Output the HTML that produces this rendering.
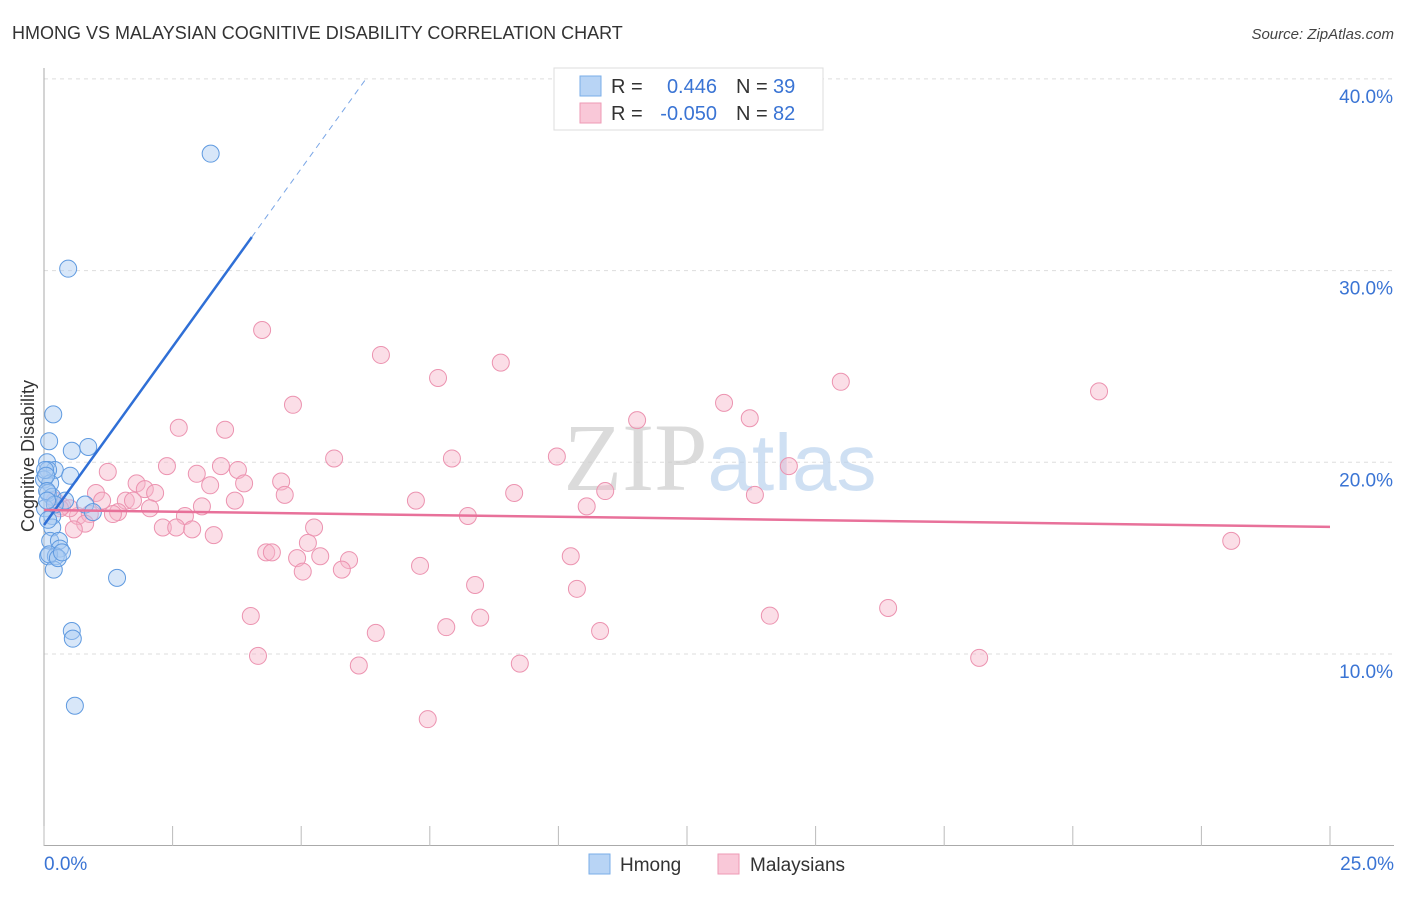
<!DOCTYPE html>
<html><head><meta charset="utf-8"><style>
body{margin:0;background:#fff;font-family:"Liberation Sans",sans-serif}
</style></head><body>
<svg id="chart" width="1406" height="892" xmlns="http://www.w3.org/2000/svg" font-family="Liberation Sans, sans-serif">
<text x="12" y="39" font-size="18" fill="#333">HMONG VS MALAYSIAN COGNITIVE DISABILITY CORRELATION CHART</text>
<text x="1394" y="39" font-size="15" fill="#444" font-style="italic" text-anchor="end">Source: ZipAtlas.com</text>
<g id="grid"></g>
<text x="720" y="490" font-size="96" text-anchor="middle" fill="#ddd" opacity="0.7"><tspan font-family="Liberation Serif, serif" fill="#ccc">ZIP</tspan><tspan fill="#bcd3ee" font-size="80">atlas</tspan></text>
<g id="axes"></g>
<g id="marks"></g>
<text transform="translate(34,456) rotate(-90)" font-size="18" fill="#333" text-anchor="middle">Cognitive Disability</text>
<g>
<rect x="554" y="68" width="269" height="62" fill="#fff" stroke="#ddd"/>
<rect x="580" y="76" width="21" height="20" fill="#b8d4f5" stroke="#7aaee8"/>
<rect x="580" y="103" width="21" height="20" fill="#f9c8d8" stroke="#ee9ab5"/>
<text x="611" y="93" font-size="20" fill="#333">R = </text><text x="717" y="93" font-size="20" fill="#3a74d4" text-anchor="end">0.446</text>
<text x="736" y="93" font-size="20" fill="#333">N = </text><text x="773" y="93" font-size="20" fill="#3a74d4">39</text>
<text x="611" y="120" font-size="20" fill="#333">R = </text><text x="717" y="120" font-size="20" fill="#3a74d4" text-anchor="end">-0.050</text>
<text x="736" y="120" font-size="20" fill="#333">N = </text><text x="773" y="120" font-size="20" fill="#3a74d4">82</text>
</g>
<g>
<rect x="589" y="854" width="21" height="20" fill="#b8d4f5" stroke="#7aaee8"/>
<text x="620" y="871" font-size="19" fill="#333">Hmong</text>
<rect x="718" y="854" width="21" height="20" fill="#f9c8d8" stroke="#ee9ab5"/>
<text x="750" y="871" font-size="19" fill="#333">Malaysians</text>
</g>
</svg>
<script>
const xTicks=[0,2.5,5,7.5,10,12.5,15,17.5,20,22.5,25];
const yTicks=[10,20,30,40];
const yTickLabels=["10.0%","20.0%","30.0%","40.0%"];
const hmongX=[3.24,0.47,0.18,0.1,0.54,0.86,0.06,0.21,0.08,0.51,0,0.12,0.08,0.16,0.41,0.8,0.95,0.02,0.16,0.16,0.12,0.29,0.31,0.08,0.23,0.19,1.42,0.54,0.56,0.6,0.02,0.04,0.06,0.21,0.08,0.1,0.06,0.27,0.35];
const hmongY=[36.1,30.1,22.5,21.1,20.6,20.8,20.0,19.6,19.6,19.3,19.1,18.9,18.4,18.2,18.0,17.8,17.4,17.6,17.2,16.6,15.9,15.9,15.5,15.1,15.1,14.4,13.97,11.2,10.8,7.3,19.6,19.3,18.5,17.8,17.0,15.2,18.0,15.0,15.3];
const malX=[4.24,6.55,8.88,7.66,4.84,15.49,20.51,13.22,2.62,3.52,11.53,13.72,5.64,7.93,9.97,14.48,1.24,2.39,3.44,3.77,2.97,4.61,3.89,3.23,1.8,1.96,2.16,1.01,4.68,3.71,1.59,9.14,7.23,13.82,10.91,1.73,2.06,1.13,1.44,0.66,0.89,0.35,0.5,3.07,10.55,8.24,2.74,2.31,2.57,2.88,3.3,5.25,5.13,4.32,4.43,4.92,5.37,5.93,5.79,5.03,7.31,10.24,8.38,10.36,4.02,14.11,16.41,23.08,7.82,8.48,6.45,10.81,4.16,6.12,9.25,18.18,7.46,0.21,0.31,0.8,1.34,0.58];
const malY=[26.9,25.6,25.2,24.4,23.0,24.2,23.7,23.1,21.8,21.7,22.2,22.3,20.2,20.2,20.3,19.8,19.5,19.8,19.8,19.6,19.4,19.0,18.9,18.8,18.9,18.6,18.4,18.4,18.3,18.0,18.0,18.4,18.0,18.3,18.5,18.0,17.6,18.0,17.4,17.2,17.3,17.7,17.6,17.7,17.7,17.2,17.2,16.6,16.6,16.5,16.2,16.6,15.8,15.3,15.3,15.0,15.1,14.9,14.4,14.3,14.6,15.1,13.6,13.4,11.98,12.0,12.4,15.9,11.4,11.9,11.1,11.2,9.9,9.4,9.5,9.8,6.6,18.0,17.6,16.8,17.3,16.5];
const hmongLine=[0,16.73,4.04,31.75];
const malLine=[0,17.51,25,16.63];
const NS="http://www.w3.org/2000/svg";
const X=v=>44+v/25*1286, Y=v=>845.7-v*19.17;
function mk(tag,attrs,parent){const e=document.createElementNS(NS,tag);for(const k in attrs)e.setAttribute(k,attrs[k]);parent.appendChild(e);return e;}
const grid=document.getElementById('grid'),axes=document.getElementById('axes'),marks=document.getElementById('marks');
yTicks.forEach((t,i)=>{
 const l=mk('line',{x1:44,x2:1394,y1:Y(t),y2:Y(t),stroke:'#ddd','stroke-dasharray':'4,4'},grid);
 
 
 const tx=mk('text',{x:1393,y:Y(t)+24,'font-size':19,fill:'#3a74d4','text-anchor':'end'},axes);
 tx.textContent=yTickLabels[i];
 
 
});
mk('line',{x1:44,x2:44,y1:68,y2:846,stroke:'#aaa'},axes);
mk('line',{x1:44,x2:1394,y1:845.5,y2:845.5,stroke:'#aaa'},axes);
xTicks.forEach(t=>{
 const l=mk('line',{x1:X(t),x2:X(t),y1:826,y2:846,stroke:'#bbb'},axes);
 
 
});
const x0=mk('text',{x:44,y:870,'font-size':19,fill:'#3a74d4'},axes);x0.textContent='0.0%';


const x1=mk('text',{x:1394,y:870,'font-size':19,fill:'#3a74d4','text-anchor':'end'},axes);x1.textContent='25.0%';


malX.forEach((v,i)=>{
 const c=mk('circle',{cx:X(v),cy:Y(malY[i]),r:8.5,fill:'#f7b6ca',"fill-opacity":0.45,stroke:'#ec93b0','stroke-width':1},marks);
 
 
});
hmongX.forEach((v,i)=>{
 const c=mk('circle',{cx:X(v),cy:Y(hmongY[i]),r:8.5,fill:'#a9c9f2',"fill-opacity":0.45,stroke:'#5f9ae0','stroke-width':1},marks);
 
 
});
const slope=(hmongLine[3]-hmongLine[1])/(hmongLine[2]-hmongLine[0]);
const xEnd=(40-hmongLine[1])/slope;
const hl=mk('line',{x1:X(hmongLine[0]),y1:Y(hmongLine[1]),x2:X(hmongLine[2]),y2:Y(hmongLine[3]),stroke:'#2f6fd6','stroke-width':2.5},marks);


const hd=mk('line',{x1:X(hmongLine[2]),y1:Y(hmongLine[3]),x2:X(xEnd),y2:Y(40),stroke:'#7aa6e6','stroke-width':1,'stroke-dasharray':'6,5'},marks);


const ml=mk('line',{x1:X(malLine[0]),y1:Y(malLine[1]),x2:X(malLine[2]),y2:Y(malLine[3]),stroke:'#e8719a','stroke-width':2.5},marks);


</script>
</body></html>
